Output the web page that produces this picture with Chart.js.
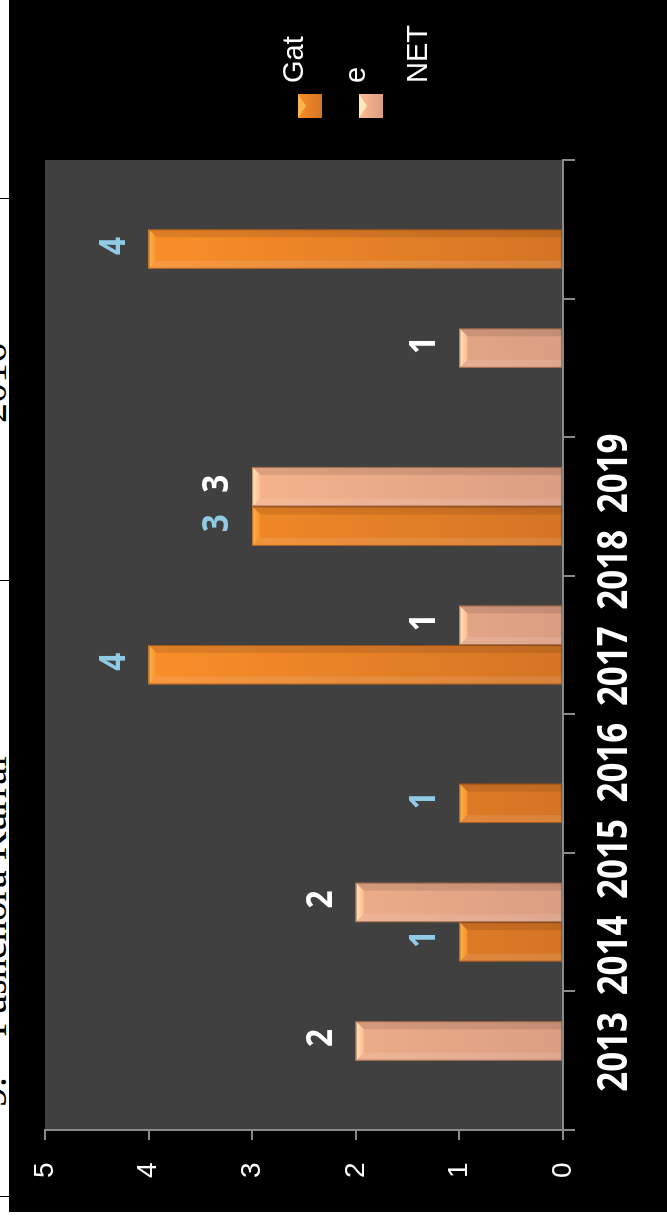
<!DOCTYPE html>
<html>
<head>
<meta charset="utf-8">
<script src="https://cdn.jsdelivr.net/npm/chart.js@4/dist/chart.umd.min.js"></script>
<style>
  html, body { margin: 0; padding: 0; background: #fff; width: 667px; height: 1224px; overflow: hidden; }
  .title { position: absolute; left: 0; top: 0; transform-origin: 0 0; font: 40px 'Liberation Serif', 'Times New Roman', serif; white-space: pre; line-height: 40px; color: #000; }
  .rule { position: absolute; left: 0; width: 9px; height: 1px; background: #000; }
  #frame { position: absolute; left: 9px; top: 0; width: 658px; height: 1212px; background: #000; overflow: hidden; }
  #rot { position: absolute; left: 0; top: 0; width: 1212px; height: 658px; transform-origin: 0 0; transform: translate(0, 1212px) rotate(-90deg); }
</style>
</head>
<body>
<div class="title" style="transform: translate(-27px, 1107px) rotate(-90deg);">9.    Pushehora Kurral</div>
<div class="title" style="transform: translate(-27px, 423px) rotate(-90deg);">2016</div>
<div class="rule" style="top:198px"></div>
<div class="rule" style="top:580px"></div>
<div class="rule" style="top:1196px"></div>
<div id="frame"><div id="rot"><canvas id="c" width="1212" height="658"></canvas></div></div>
<script>
// Years on the category axis
const years = ['2013', '2014', '2015', '2016', '2017', '2018', '2019'];
// Series names
const seriesNames = ['Gate', 'NET'];
// Counts per year
const gateValues = [null, 1, 1, 4, 3, null, 4];
const netValues = [2, 2, null, 1, 3, 1, null];
// Value axis ticks
const valueTicks = [0, 1, 2, 3, 4, 5];

const boldFamily = "'Open Sans', sans-serif";

const palette = [
  { top: '#F98E2A', base: '#D47424', cap: '#FBB54E', label: '#8FCBE4' },
  { top: '#FEBA90', base: '#DB9E82', cap: '#FFE6BC', label: '#FFFFFF' }
];

function barGradient(i) {
  return function (ctx) {
    const chart = ctx.chart;
    const area = chart.chartArea;
    if (!area) return palette[i].top;
    const y = chart.scales.y;
    const g = chart.ctx.createLinearGradient(0, y.getPixelForValue(4), 0, y.getPixelForValue(0));
    g.addColorStop(0, palette[i].top);
    g.addColorStop(1, palette[i].base);
    return g;
  };
}

// Dark plot area behind the bars
const plotBackground = {
  id: 'plotBackground',
  beforeDraw(chart) {
    const { ctx, chartArea: a } = chart;
    ctx.save();
    ctx.fillStyle = '#404040';
    ctx.fillRect(a.left, a.top, a.right - a.left, a.bottom - a.top);
    ctx.restore();
  }
};

// Draws text squeezed horizontally (a narrow bold face)
function narrowText(ctx, text, x, y, squeeze) {
  ctx.save();
  ctx.translate(x, y);
  ctx.scale(squeeze, 1);
  ctx.fillText(text, 0, 0);
  ctx.restore();
}

// Bevelled end caps and value labels
const bevelAndLabels = {
  id: 'bevelAndLabels',
  afterDatasetsDraw(chart) {
    const ctx = chart.ctx;
    chart.data.datasets.forEach((ds, i) => {
      const meta = chart.getDatasetMeta(i);
      meta.data.forEach((bar, j) => {
        const v = ds.data[j];
        if (v === null || v === undefined) return;
        const { x, y, base, width } = bar.getProps(['x', 'y', 'base', 'width'], true);
        const l = x - width / 2, r = x + width / 2, b = 8;
        ctx.save();
        // side bevels
        ctx.fillStyle = 'rgba(255,255,255,0.10)';
        ctx.beginPath();
        ctx.moveTo(l, y); ctx.lineTo(l + b, y + b); ctx.lineTo(l + b, base); ctx.lineTo(l, base); ctx.closePath();
        ctx.fill();
        ctx.fillStyle = 'rgba(0,0,0,0.10)';
        ctx.beginPath();
        ctx.moveTo(r, y); ctx.lineTo(r - b, y + b); ctx.lineTo(r - b, base); ctx.lineTo(r, base); ctx.closePath();
        ctx.fill();
        // end cap
        const cg = ctx.createLinearGradient(0, y, 0, y + b);
        cg.addColorStop(0, palette[i].cap);
        cg.addColorStop(1, palette[i].top);
        ctx.fillStyle = cg;
        ctx.beginPath();
        ctx.moveTo(l, y); ctx.lineTo(r, y); ctx.lineTo(r - b, y + b); ctx.lineTo(l + b, y + b); ctx.closePath();
        ctx.fill();
        ctx.strokeStyle = 'rgba(90,40,10,0.45)';
        ctx.lineWidth = 1;
        ctx.strokeRect(l + 0.5, y + 0.5, width - 1, base - y - 1);
        // value label
        ctx.fillStyle = palette[i].label;
        ctx.font = 'bold 35px ' + boldFamily;
        ctx.textAlign = 'center';
        ctx.textBaseline = 'middle';
        narrowText(ctx, String(v), x + 3, y - 34, 0.9);
        ctx.restore();
      });
    });
  }
};

// Year captions placed at the yearAxis tick positions
const yearCaptions = {
  id: 'yearCaptions',
  afterDraw(chart) {
    const s = chart.scales.yearAxis;
    const ctx = chart.ctx;
    ctx.save();
    ctx.fillStyle = '#FFFFFF';
    ctx.font = 'bold 42px ' + boldFamily;
    ctx.textAlign = 'center';
    ctx.textBaseline = 'alphabetic';
    s.ticks.forEach((t, i) => {
      narrowText(ctx, years[i], s.getPixelForValue(t.value), s.top + 42, 0.83);
    });
    ctx.restore();
  }
};

// Legend: swatch per series, names flow as wrapped lines
const sideLegend = {
  id: 'sideLegend',
  afterDraw(chart) {
    const ctx = chart.ctx;
    const sx = 1094, sy = 289, rowPitch = 61, sw = 24;
    const tx = 1129, ty = 294, linePitch = 62, maxW = 60;
    ctx.save();
    ctx.font = "29px 'Liberation Sans', Arial, sans-serif";
    const lines = [];
    seriesNames.forEach(name => {
      let cur = '';
      for (const ch of name) {
        if (cur && ctx.measureText(cur + ch).width > maxW) { lines.push(cur); cur = ch; }
        else cur += ch;
      }
      if (cur) lines.push(cur);
    });
    seriesNames.forEach((name, i) => {
      const top = sy + i * rowPitch;
      const g = ctx.createLinearGradient(0, top, 0, top + sw);
      g.addColorStop(0, palette[i].top);
      g.addColorStop(1, palette[i].base);
      ctx.fillStyle = g;
      ctx.fillRect(sx, top, sw, sw);
      ctx.fillStyle = palette[i].cap;
      ctx.beginPath();
      ctx.moveTo(sx, top); ctx.lineTo(sx + sw, top); ctx.lineTo(sx + sw / 2, top + 8); ctx.closePath();
      ctx.fill();
    });
    ctx.fillStyle = '#FFFFFF';
    ctx.textAlign = 'left';
    ctx.textBaseline = 'alphabetic';
    lines.forEach((t, k) => ctx.fillText(t, tx, ty + k * linePitch));
    ctx.restore();
  }
};

const axisGrey = '#8A8A8A';

new Chart(document.getElementById('c'), {
  type: 'bar',
  data: {
    labels: years,
    datasets: [
      { label: seriesNames[0], data: gateValues, backgroundColor: barGradient(0), xAxisID: 'x' },
      { label: seriesNames[1], data: netValues, backgroundColor: barGradient(1), xAxisID: 'x' }
    ]
  },
  options: {
    responsive: false,
    animation: false,
    datasets: { bar: { categoryPercentage: 0.57, barPercentage: 1.0 } },
    layout: { padding: { top: 36, right: 160, left: 34, bottom: 0 } },
    plugins: { legend: { display: false }, tooltip: { enabled: false } },
    scales: {
      x: {
        type: 'category',
        position: 'bottom',
        grid: { display: true, offset: true, drawOnChartArea: false, drawTicks: true, tickLength: 12, color: axisGrey, lineWidth: 2 },
        border: { display: true, color: axisGrey, width: 2 },
        ticks: { display: false },
        afterFit(s) { s.height = 22; }
      },
      // Year captions run at their own spacing along the bottom
      yearAxis: {
        axis: 'x',
        type: 'linear',
        position: 'bottom',
        offset: false,
        bounds: 'data',
        min: -0.81,
        max: 9.25,
        afterBuildTicks(s) { s.ticks = years.map((_, i) => ({ value: i })); },
        grid: { display: false, drawTicks: false, offset: false },
        border: { display: false },
        ticks: { display: false },
        afterFit(s) { s.height = 82; }
      },
      y: {
        min: 0,
        max: 5,
        afterBuildTicks(s) { s.ticks = valueTicks.map(v => ({ value: v })); },
        grid: { drawOnChartArea: false, drawTicks: true, tickLength: 10, color: axisGrey, lineWidth: 2 },
        border: { display: true, color: axisGrey, width: 2 },
        ticks: { color: '#FFFFFF', padding: 4, crossAlign: 'far', font: { family: "'Liberation Sans', Arial, sans-serif", size: 28 } },
        afterFit(s) { s.width = 48; }
      }
    }
  },
  plugins: [plotBackground, bevelAndLabels, yearCaptions, sideLegend]
});
</script>
</body>
</html>
